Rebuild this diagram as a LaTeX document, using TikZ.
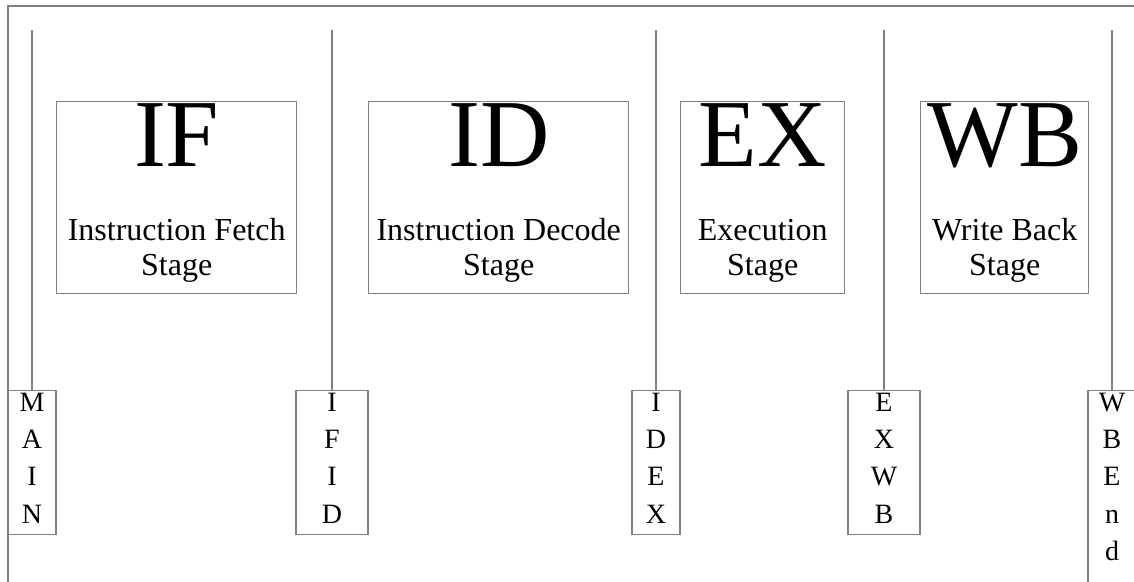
\documentclass[tikz,border=0pt]{standalone}
\usepackage{fontspec}
\setmainfont{Liberation Serif}
\usetikzlibrary{calc}
\tikzset{
  ln/.style={draw=gray, line width=1.4pt},
  stagebox/.style={ln, rectangle, inner sep=0pt, anchor=north west, minimum height=192pt},
  regbox/.style={ln, rectangle, inner sep=0pt, anchor=north},
  bigtxt/.style={font=\fontsize{96}{96}\selectfont, inner sep=0pt, anchor=base},
  subtxt/.style={font=\fontsize{32}{35}\selectfont, inner sep=0pt, anchor=base, align=center},
  regtxt/.style={font=\fontsize{28}{37.3}\selectfont, inner sep=0pt, anchor=base, align=center},
}
\begin{document}
\begin{tikzpicture}[x=1pt,y=-1pt]
\useasboundingbox (0,0) rectangle (1134,581);
\clip (0,0) rectangle (1134,581);
% outer frame (only top and left edges visible)
\coordinate (frameTR) at (1140,6);
\coordinate (frameTL) at (8,6);
\coordinate (frameBL) at (8,590);
\draw[ln] (frameTR) -- (frameTL) -- (frameBL);

% stage boxes
\node[stagebox, minimum width=240pt] (ifbox) at (56,101) {};
\node[stagebox, minimum width=260pt] (idbox) at (368,101) {};
\node[stagebox, minimum width=164pt] (exbox) at (680,101) {};
\node[stagebox, minimum width=168pt] (wbbox) at (920,101) {};

\node[bigtxt] (ifbig) at ($(ifbox.north)+(0,65)$) {IF};
\node[bigtxt] (idbig) at ($(idbox.north)+(0,65)$) {ID};
\node[bigtxt] (exbig) at ($(exbox.north)+(0,65)$) {EX};
\node[bigtxt] (wbbig) at ($(wbbox.north)+(0,65)$) {WB};

% anchor=base is the baseline of the last line
\node[subtxt] (ifsub) at ($(ifbox.north)+(0,174)$) {Instruction Fetch\\Stage};
\node[subtxt] (idsub) at ($(idbox.north)+(0,174)$) {Instruction Decode\\Stage};
\node[subtxt] (exsub) at ($(exbox.north)+(0,174)$) {Execution\\Stage};
\node[subtxt] (wbsub) at ($(wbbox.north)+(0,174)$) {Write Back\\Stage};

% pipeline register boxes
\node[regbox, minimum width=48pt, minimum height=144pt] (main) at (32,390) {};
\node[regbox, minimum width=72pt, minimum height=144pt] (ifid) at (332,390) {};
\node[regbox, minimum width=48pt, minimum height=144pt] (idex) at (656,390) {};
\node[regbox, minimum width=72pt, minimum height=144pt] (exwb) at (884,390) {};
\node[regbox, minimum width=48pt, minimum height=200pt] (wbend) at (1112,390) {};

\node[regtxt] (maintxt) at ($(main.north)+(0,133)$) {M\\A\\I\\N};
\node[regtxt] (ifidtxt) at ($(ifid.north)+(0,133)$) {I\\F\\I\\D};
\node[regtxt] (idextxt) at ($(idex.north)+(0,133)$) {I\\D\\E\\X};
\node[regtxt] (exwbtxt) at ($(exwb.north)+(0,133)$) {E\\X\\W\\B};
\node[regtxt] (wbendtxt) at ($(wbend.north)+(0,170.3)$) {W\\B\\E\\n\\d};

% vertical connectors
\coordinate (mainTop) at (32,30);
\coordinate (ifidTop) at (332,30);
\coordinate (idexTop) at (656,30);
\coordinate (exwbTop) at (884,30);
\coordinate (wbendTop) at (1112,30);
\draw[ln] (mainTop) -- (main.north);
\draw[ln] (ifidTop) -- (ifid.north);
\draw[ln] (idexTop) -- (idex.north);
\draw[ln] (exwbTop) -- (exwb.north);
\draw[ln] (wbendTop) -- (wbend.north);
\end{tikzpicture}
\end{document}
